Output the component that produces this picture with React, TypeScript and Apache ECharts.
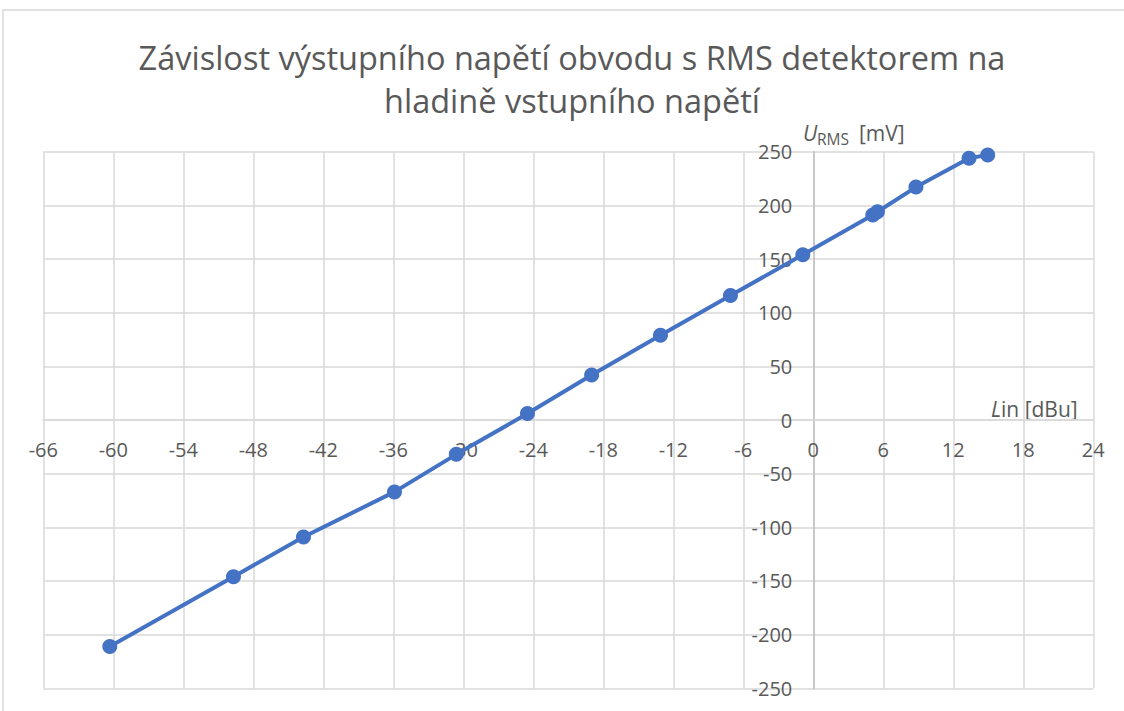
import React, { useEffect, useRef } from "react";
import * as echarts from "echarts";

const xValues = [-60.3, -49.7, -43.7, -35.9, -30.6, -24.5, -19.0, -13.1, -7.1, -0.9, 5.1, 5.5, 8.8, 13.35, 14.95];
const yValues = [-211, -146, -109, -67, -32, 6, 42, 79, 116, 154, 191, 194, 217, 244, 247];
const xTicks = { min: -66, max: 24, interval: 6 };
const yTicks = { min: -250, max: 250, interval: 50 };
const titleLines = ["Závislost výstupního napětí obvodu s RMS detektorem na", "hladině vstupního napětí"];

const FONT = "'Open Sans', 'Noto Sans', sans-serif";
const TXT = "#595959";

const W = 1124;
const H = 711;
const G = { left: 43.3, right: 30.7, top: 151.7, bottom: 22.7 };

export default function App() {
  const ref = useRef<HTMLDivElement>(null);
  useEffect(() => {
    if (!ref.current) return;
    const chart = echarts.init(ref.current, null, { renderer: "svg" });
    const data = xValues.map((x, i) => [x, yValues[i]]);
    const gw = W - G.left - G.right;
    const gh = H - G.top - G.bottom;
    // distance from grid edge to the zero lines (axes cross at 0,0)
    const yAxisOffset = -((0 - xTicks.min) / (xTicks.max - xTicks.min)) * gw;
    const xAxisOffset = -((0 - yTicks.min) / (yTicks.max - yTicks.min)) * gh;
    chart.setOption({
      animation: false,
      backgroundColor: "#ffffff",
      textStyle: { fontFamily: FONT },
      title: {
        text: titleLines.join("\n"),
        left: 572,
        top: 36,
        padding: 0,
        textAlign: "center",
        textStyle: { fontFamily: FONT, fontSize: 32.5, fontWeight: "normal", color: TXT, lineHeight: 43 },
      },
      grid: { ...G, containLabel: false, outerBoundsMode: "none" },
      xAxis: {
        type: "value",
        position: "bottom",
        offset: xAxisOffset,
        min: xTicks.min,
        max: xTicks.max,
        interval: xTicks.interval,
        axisLine: { show: true, onZero: false, lineStyle: { color: "#d9d9d9", width: 1.5 } },
        axisTick: { show: false },
        axisLabel: { color: TXT, fontSize: 20, fontFamily: FONT, margin: 19 },
        splitLine: { show: true, lineStyle: { color: "#d9d9d9", width: 1.5 } },
      },
      yAxis: {
        type: "value",
        position: "left",
        offset: yAxisOffset,
        min: yTicks.min,
        max: yTicks.max,
        interval: yTicks.interval,
        axisLine: { show: true, onZero: false, lineStyle: { color: "#bfbfbf", width: 1.5 } },
        axisTick: { show: false },
        axisLabel: { color: TXT, fontSize: 20, fontFamily: FONT, margin: 21 },
        splitLine: { show: true, lineStyle: { color: "#d9d9d9", width: 1.5 } },
      },
      graphic: [
        {
          type: "rect",
          z: -10,
          shape: { x: 3, y: 10, width: 1200, height: 800 },
          style: { fill: "none", stroke: "#d9d9d9", lineWidth: 1.5 },
          silent: true,
        },
        { type: "text", x: 803, y: 133, style: { text: "U", font: `italic 21px ${FONT}`, fill: TXT, verticalAlign: "middle" } },
        { type: "text", x: 817, y: 139, style: { text: "RMS", font: `15.5px ${FONT}`, fill: TXT, verticalAlign: "middle" } },
        { type: "text", x: 859, y: 133, style: { text: "[mV]", font: `21px ${FONT}`, fill: TXT, verticalAlign: "middle" } },
        { type: "text", x: 991, y: 409, style: { text: "L", font: `italic 21px ${FONT}`, fill: TXT, verticalAlign: "middle" } },
        { type: "text", x: 1001, y: 409, style: { text: "in [dBu]", font: `21px ${FONT}`, fill: TXT, verticalAlign: "middle" } },
      ],
      series: [
        {
          type: "line",
          data,
          symbol: "circle",
          symbolSize: 15,
          z: 5,
          lineStyle: { color: "#4472C4", width: 4 },
          itemStyle: { color: "#4472C4" },
        },
      ],
    });
    return () => chart.dispose();
  }, []);
  return <div ref={ref} style={{ position: "absolute", left: 0, top: 0, width: W, height: H }} />;
}
